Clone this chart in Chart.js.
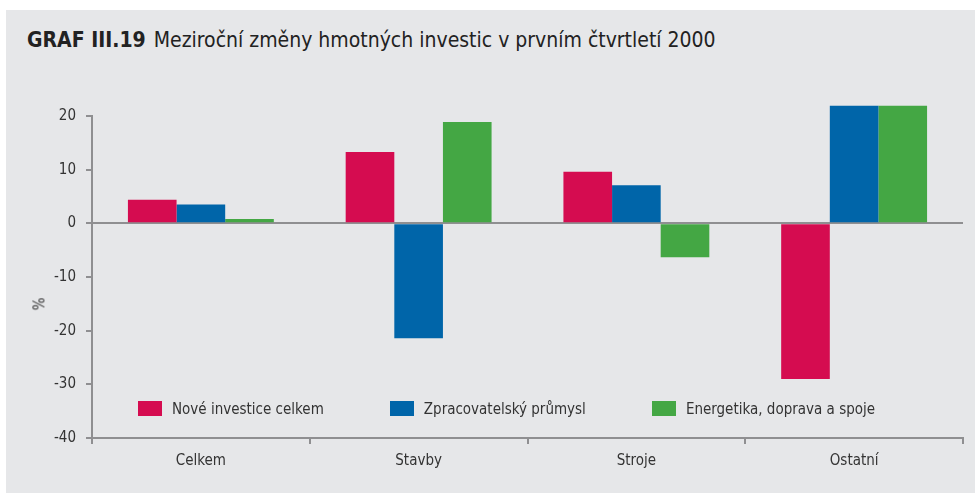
<!DOCTYPE html>
<html>
<head>
<meta charset="utf-8">
<script src="https://cdn.jsdelivr.net/npm/chart.js@4"></script>
<style>
  body { margin: 0; background: #fff; }
  #panel { position: absolute; left: 6px; top: 10px; width: 969px; height: 483px; background: #e6e7e9; }
  #title { position: absolute; left: 21px; top: 18px; font: 21px "Liberation Sans Narrow", "DejaVu Sans Condensed", "Open Sans", sans-serif; color: #222; white-space: nowrap; }
  #title b { margin-right: 8px; }
  #chart { position: absolute; left: 0; top: 60px; }
  #ytitle { position: absolute; left: 27px; top: 285px; font: 15px "Liberation Sans Narrow", "DejaVu Sans Condensed", sans-serif; color: #333; transform: rotate(-90deg); }
  #legend { position: absolute; left: 132px; top: 390px; display: flex; gap: 66px; font: 15px "Liberation Sans Narrow", "DejaVu Sans Condensed", sans-serif; color: #333; }
  #legend span.box { display: inline-block; width: 24px; height: 15px; margin-right: 10px; vertical-align: -2px; }
</style>
</head>
<body>
<div id="panel">
  <div id="title"><b>GRAF III.19</b>Meziroční změny hmotných investic v prvním čtvrtletí 2000</div>
  <canvas id="chart" width="969" height="423"></canvas>
  <div id="ytitle">%</div>
  <div id="legend"></div>
</div>
<script>
"use strict"

const categories = ["Celkem", "Stavby", "Stroje", "Ostatní"]
const seriesNames = ["Nové investice celkem", "Zpracovatelský průmysl", "Energetika, doprava a spoje"]
const noveInvestice = [4.4, 13.3, 9.6, -29.0]
const zpracovatelsky = [3.5, -21.4, 7.1, 21.9]
const energetika = [0.8, 18.9, -6.3, 21.9]
const yTicks = [20, 10, 0, -10, -20, -30, -40]

const colors = ["#d50c50", "#0065a9", "#44a744"]
const axisGray = "#8f8f91"
const fontFamily = "'Liberation Sans Narrow', 'DejaVu Sans Condensed', 'Open Sans', sans-serif"

const allSeries = [noveInvestice, zpracovatelsky, energetika]
const datasets = []
for (let i = 0; i < allSeries.length; i++) {
    datasets.push({
        label: seriesNames[i],
        data: allSeries[i],
        backgroundColor: colors[i],
        borderWidth: 0,
        clip: false,
    })
}

const config = {
    type: "bar",
    data: { labels: categories, datasets: datasets },
    options: {
        responsive: false,
        animation: false,
        layout: { padding: { top: 46, right: 12, left: 0, bottom: 0 } },
        datasets: { bar: { categoryPercentage: 0.67, barPercentage: 1 } },
        plugins: { legend: { display: false }, tooltip: { enabled: false } },
        scales: {
            x: {
                afterFit: (scale) => { scale.height = 55 },
                border: { color: axisGray, width: 2 },
                grid: { drawOnChartArea: false, tickLength: 6, tickColor: axisGray, lineWidth: 2 },
                ticks: { color: "#333", padding: 8, font: { family: fontFamily, size: 15 } },
            },
            y: {
                min: -40,
                max: 20,
                afterFit: (scale) => { scale.width = 86 },
                afterBuildTicks: (scale) => { scale.ticks = yTicks.map(v => ({ value: v })) },
                border: { color: axisGray, width: 2 },
                grid: {
                    color: (ctx) => ctx.tick && ctx.tick.value === 0 ? axisGray : "transparent",
                    tickColor: axisGray,
                    tickLength: 6,
                    lineWidth: 2,
                },
                ticks: { color: "#333", padding: 10, font: { family: fontFamily, size: 15 } },
            },
        },
    },
}

const chart = new Chart(document.getElementById("chart"), config)

// legend sits inside the plot, so build it in html
const legend = document.getElementById("legend")
chart.data.datasets.forEach((ds) => {
    const item = document.createElement("div")
    const box = document.createElement("span")
    box.className = "box"
    box.style.background = ds.backgroundColor
    item.appendChild(box)
    item.appendChild(document.createTextNode(ds.label))
    legend.appendChild(item)
})
</script>
</body>
</html>
